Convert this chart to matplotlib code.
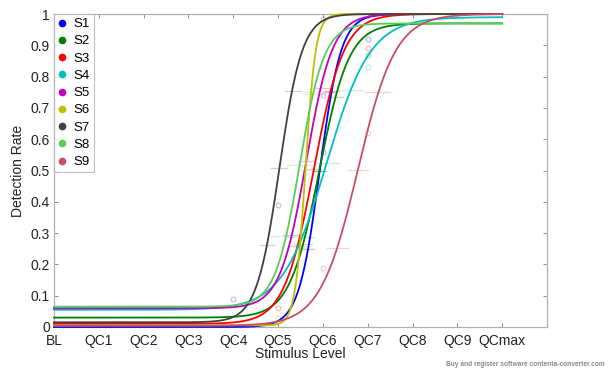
import numpy as np
import matplotlib
matplotlib.use("Agg")
import matplotlib.pyplot as plt

plt.rcParams['font.family'] = ['Liberation Sans', 'DejaVu Sans']

# ---- data -------------------------------------------------------------
subjects = ["S1", "S2", "S3", "S4", "S5", "S6", "S7", "S8", "S9"]
colors = [(0.0, 0.0, 1.0), (0.0, 0.5, 0.0), (1.0, 0.0, 0.0), (0.0, 0.75, 0.75),
          (0.75, 0.0, 0.75), (0.75, 0.75, 0.0), (0.25, 0.25, 0.25),
          (0.35, 0.8, 0.35), (0.8, 0.3, 0.4)]
level_labels = ["BL", "QC1", "QC2", "QC3", "QC4", "QC5", "QC6", "QC7", "QC8", "QC9", "QCmax"]

# fitted psychometric-function parameters (logistic)
thresholds = [5.93, 5.92, 5.80, 6.08, 5.63, 5.61, 5.03, 5.48, 6.78]
widths     = [0.237, 0.33, 0.335, 0.49, 0.293, 0.115, 0.255, 0.272, 0.42]
guess      = [0.0, 0.03, 0.01, 0.055, 0.06, 0.005, 0.015, 0.065, 0.004]
lapse      = [0.0, 0.03, 0.0, 0.01, 0.0, 0.0, 0.0, 0.03, 0.0]

# threshold confidence intervals at 25 / 50 / 75 % levels
ci_levels = [0.25, 0.5, 0.75]
ci25_lo = [5.50, 5.35, 5.25, 5.20, 5.10, 5.40, 4.60, 4.85, 6.10]
ci25_hi = [5.80, 5.75, 5.60, 5.80, 5.50, 5.58, 4.90, 5.35, 6.55]
ci50_lo = [5.80, 5.75, 5.65, 5.80, 5.45, 5.50, 4.85, 5.20, 6.55]
ci50_hi = [6.05, 6.10, 5.95, 6.35, 5.80, 5.72, 5.20, 5.75, 7.00]
ci75_lo = [6.05, 6.10, 6.00, 6.35, 5.80, 5.60, 5.15, 5.55, 6.95]
ci75_hi = [6.30, 6.45, 6.35, 6.90, 6.15, 5.88, 5.50, 6.05, 7.50]

# observed detection rates that are visible off the curves
obs_subject = [7, 1, 3, 2, 4, 9, 7, 9, 3, 5, 8, 5, 8, 1]
obs_level   = [6, 7, 7, 7, 7, 7, 5, 6, 5, 4, 5, 6, 6, 6]
obs_rate    = [0.985, 0.92, 0.89, 0.87, 0.83, 0.62, 0.39, 0.19, 0.06, 0.09, 0.028, 0.74, 0.83, 0.56]

# ---- figure -------------------------------------------------------------
fig = plt.figure(figsize=(6.12, 3.71), dpi=100)
ax = fig.add_axes([54 / 612, 1 - 327 / 371, (547 - 54) / 612, (327 - 14) / 371])

x = np.linspace(0, len(level_labels) - 1, 600)

def psy(xx, i):
    g, l = guess[i], lapse[i]
    return g + (1 - g - l) / (1 + np.exp(-(xx - thresholds[i]) / widths[i]))

def inv_level(p, i):
    return guess[i] + (1 - guess[i] - lapse[i]) * p

# confidence-interval bars (faint)
ci_lo = [ci25_lo, ci50_lo, ci75_lo]
ci_hi = [ci25_hi, ci50_hi, ci75_hi]
for i in range(len(subjects)):
    for k, p in enumerate(ci_levels):
        yv = inv_level(p, i)
        ax.plot([ci_lo[k][i], ci_hi[k][i]], [yv, yv], color=colors[i], alpha=0.25, lw=0.9)

# observed points (faint open circles)
for s, lv, r in zip(obs_subject, obs_level, obs_rate):
    ax.plot(lv, r, 'o', mfc='none', mec=colors[s - 1], alpha=0.35, ms=3.5, mew=0.7)

# fitted curves
for i, name in enumerate(subjects):
    ax.plot(x, psy(x, i), color=colors[i], lw=1.3, clip_on=False, zorder=3)

# legend proxies
handles = [ax.plot([], [], 'o', color=colors[i], ms=4.5, label=subjects[i])[0]
           for i in range(len(subjects))]
leg = ax.legend(handles=handles, loc='upper left', frameon=True, fancybox=False,
                fontsize=9.5, handlelength=0.6, handletextpad=0.6, borderpad=0.3,
                labelspacing=0.38, borderaxespad=0.0)
leg.get_frame().set_edgecolor('#b0b0b0')
leg.get_frame().set_linewidth(0.8)

ax.set_xlim(0, 11)
ax.set_ylim(0, 1)
ax.set_xticks(range(len(level_labels)))
ax.set_xticklabels(level_labels)
ax.set_yticks(np.arange(0, 1.01, 0.1))
ax.set_yticklabels(["0", "0.1", "0.2", "0.3", "0.4", "0.5", "0.6", "0.7", "0.8", "0.9", "1"])
ax.tick_params(direction='in', length=3, width=0.6, color='#808080', labelsize=10,
               top=True, right=True, labelcolor='#222222')
ax.tick_params(axis='x', pad=5)
ax.tick_params(axis='y', pad=3)
for sp in ax.spines.values():
    sp.set_color('#b0b0b0')
    sp.set_linewidth(0.9)
ax.set_xlabel("Stimulus Level", fontsize=10, labelpad=-1, color='#222222')
ax.set_ylabel("Detection Rate", fontsize=10, labelpad=4, color='#222222')

fig.text(0.988, 0.008, "Buy and register software contenta-converter.com",
         ha='right', va='bottom', fontsize=4.8, color='#888888', fontweight='bold')

fig.savefig("out.png", dpi=100)
